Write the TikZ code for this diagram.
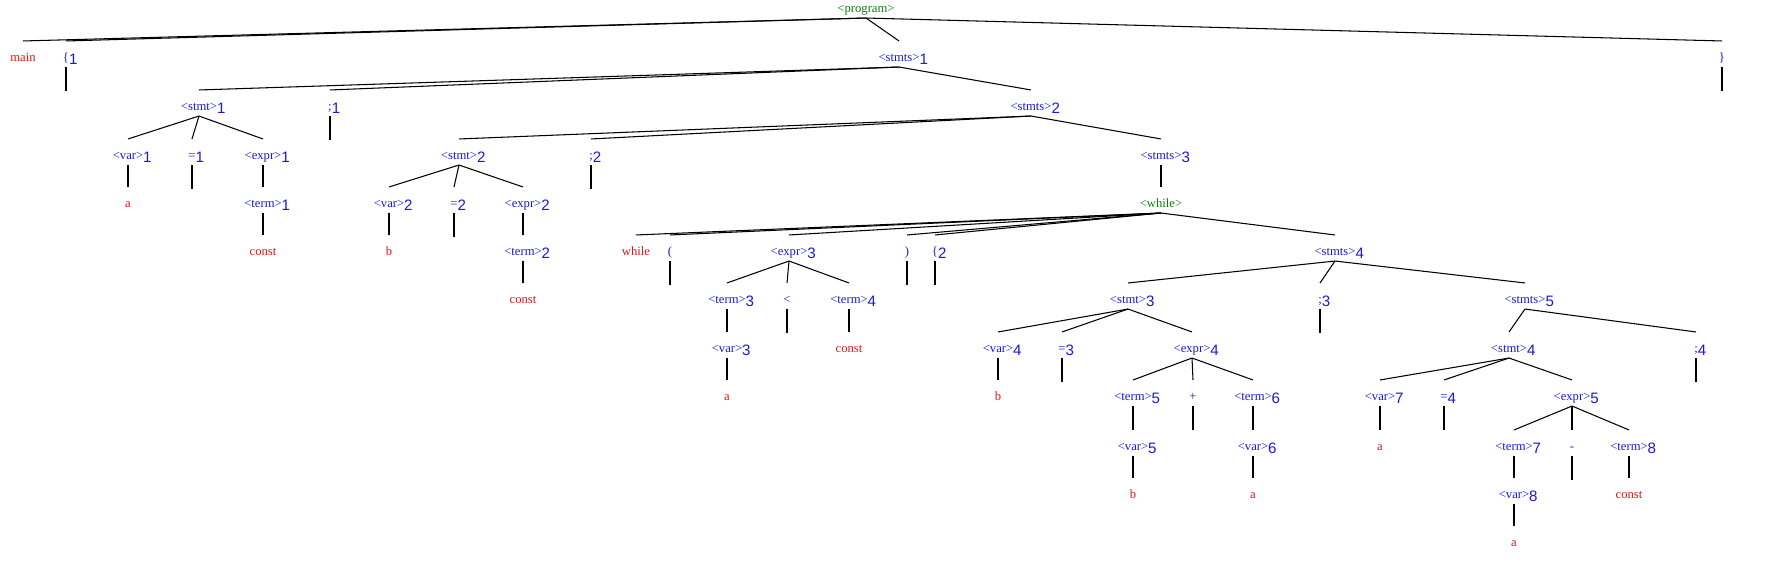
\documentclass[tikz,border=0pt]{standalone}
\usepackage{fontspec}
\setmainfont{Liberation Serif}
\newfontfamily\ixfont{Liberation Sans}
\usepackage{xcolor}
\usepackage{tikz}
\usetikzlibrary{positioning,calc}

\definecolor{ntblue}{RGB}{25,25,215}
\definecolor{tmred}{RGB}{225,20,20}
\definecolor{stgreen}{RGB}{10,130,10}

\newcommand{\ang}[1]{\textless#1\textgreater}
\newcommand{\ix}[1]{\rlap{\raisebox{-2pt}{\ixfont\fontsize{8.6}{9}\selectfont#1}}}

\tikzset{
    tn/.style={inner sep=0pt, minimum height=0.5cm, text height=8.6pt, text depth=0.6pt,
        font=\fontsize{7.2}{8}\selectfont},
    nt/.style={tn, text=ntblue},
    tm/.style={tn, text=tmred},
    st/.style={tn, text=stgreen},
}

\begin{document}
\begin{tikzpicture}[x=0.02cm, y=-0.02cm, line width=0.6pt]
    \useasboundingbox (0,0) rectangle (1791,578);

    % level 0 and 1
    \node[st] (prog) at (866,5) {\ang{program}};
    \node[tm] (main) at (23,54) {main};
    \node[nt] (lb1) at (66,54) {\{\ix1};
    \node[nt] (stmts1) at (899,54) {\ang{stmts}\ix1};
    \node[nt] (rb) at (1722,54) {\}};

    \node[nt] (stmt1) at (199,103) {\ang{stmt}\ix1};
    \node[nt] (semi1) at (330,103) {;\ix1};
    \node[nt] (stmts2) at (1031,103) {\ang{stmts}\ix2};

    \node[nt] (var1) at (128,152) {\ang{var}\ix1};
    \node[nt] (eq1) at (192,152) {=\ix1};
    \node[nt] (expr1) at (263,152) {\ang{expr}\ix1};
    \node[nt] (stmt2) at (459,152) {\ang{stmt}\ix2};
    \node[nt] (semi2) at (591,152) {;\ix2};
    \node[nt] (stmts3) at (1161,152) {\ang{stmts}\ix3};

    \node[tm] (a1) at (128,200) {a};
    \node[nt] (term1) at (263,200) {\ang{term}\ix1};
    \node[nt] (var2) at (389,200) {\ang{var}\ix2};
    \node[nt] (eq2) at (454,200) {=\ix2};
    \node[nt] (expr2) at (523,200) {\ang{expr}\ix2};
    \node[st] (wh) at (1161,200) {\ang{while}};

    \node[tm] (const1) at (263,248) {const};
    \node[tm] (b1) at (389,248) {b};
    \node[nt] (term2) at (523,248) {\ang{term}\ix2};
    \node[tm] (kw) at (636,248) {while};
    \node[nt] (lpar) at (670,248) {(};
    \node[nt] (expr3) at (789,248) {\ang{expr}\ix3};
    \node[nt] (rpar) at (907,248) {)};
    \node[nt] (lb2) at (935,248) {\{\ix2};
    \node[nt] (stmts4) at (1335,248) {\ang{stmts}\ix4};

    \node[tm] (const2) at (523,296) {const};
    \node[nt] (term3) at (727,296) {\ang{term}\ix3};
    \node[nt] (lt) at (787,296) {\textless};
    \node[nt] (term4) at (849,296) {\ang{term}\ix4};
    \node[nt] (stmt3) at (1128,296) {\ang{stmt}\ix3};
    \node[nt] (semi3) at (1320,296) {;\ix3};
    \node[nt] (stmts5) at (1525,296) {\ang{stmts}\ix5};

    \node[nt] (var3) at (727,345) {\ang{var}\ix3};
    \node[tm] (const3) at (849,345) {const};
    \node[nt] (var4) at (998,345) {\ang{var}\ix4};
    \node[nt] (eq3) at (1062,345) {=\ix3};
    \node[nt] (expr4) at (1192,345) {\ang{expr}\ix4};
    \node[nt] (stmt4) at (1509,345) {\ang{stmt}\ix4};
    \node[nt] (semi4) at (1696,345) {;\ix4};

    \node[tm] (a2) at (727,393) {a};
    \node[tm] (b2) at (998,393) {b};
    \node[nt] (term5) at (1133,393) {\ang{term}\ix5};
    \node[nt] (plus) at (1193,393) {+};
    \node[nt] (term6) at (1253,393) {\ang{term}\ix6};
    \node[nt] (var7) at (1380,393) {\ang{var}\ix7};
    \node[nt] (eq4) at (1444,393) {=\ix4};
    \node[nt] (expr5) at (1572,393) {\ang{expr}\ix5};

    \node[nt] (var5) at (1133,443) {\ang{var}\ix5};
    \node[nt] (var6) at (1253,443) {\ang{var}\ix6};
    \node[tm] (a3) at (1380,443) {a};
    \node[nt] (term7) at (1514,443) {\ang{term}\ix7};
    \node[nt] (minus) at (1572,443) {-};
    \node[nt] (term8) at (1629,443) {\ang{term}\ix8};

    \node[tm] (b3) at (1133,491) {b};
    \node[tm] (a4) at (1253,491) {a};
    \node[nt] (var8) at (1514,491) {\ang{var}\ix8};
    \node[tm] (const4) at (1629,491) {const};

    \node[tm] (a5) at (1514,539) {a};

    % tree edges
    \draw (prog.south) edge (main.north) edge (lb1.north) edge (stmts1.north) edge (rb.north);
    \draw (stmts1.south) edge (stmt1.north) edge (semi1.north) edge (stmts2.north);
    \draw (stmt1.south) edge (var1.north) edge (eq1.north) edge (expr1.north);
    \draw (var1.south) -- (a1.north);
    \draw (expr1.south) -- (term1.north);
    \draw (term1.south) -- (const1.north);
    \draw (stmts2.south) edge (stmt2.north) edge (semi2.north) edge (stmts3.north);
    \draw (stmt2.south) edge (var2.north) edge (eq2.north) edge (expr2.north);
    \draw (var2.south) -- (b1.north);
    \draw (expr2.south) -- (term2.north);
    \draw (term2.south) -- (const2.north);
    \draw (stmts3.south) -- (wh.north);
    \draw (wh.south) edge (kw.north) edge (lpar.north) edge (expr3.north)
        edge (rpar.north) edge (lb2.north) edge (stmts4.north);
    \draw (expr3.south) edge (term3.north) edge (lt.north) edge (term4.north);
    \draw (term3.south) -- (var3.north);
    \draw (var3.south) -- (a2.north);
    \draw (term4.south) -- (const3.north);
    \draw (stmts4.south) edge (stmt3.north) edge (semi3.north) edge (stmts5.north);
    \draw (stmt3.south) edge (var4.north) edge (eq3.north) edge (expr4.north);
    \draw (var4.south) -- (b2.north);
    \draw (expr4.south) edge (term5.north) edge (plus.north) edge (term6.north);
    \draw (term5.south) -- (var5.north);
    \draw (var5.south) -- (b3.north);
    \draw (term6.south) -- (var6.north);
    \draw (var6.south) -- (a4.north);
    \draw (stmts5.south) edge (stmt4.north) edge (semi4.north);
    \draw (stmt4.south) edge (var7.north) edge (eq4.north) edge (expr5.north);
    \draw (var7.south) -- (a3.north);
    \draw (expr5.south) edge (term7.north) edge (minus.north) edge (term8.north);
    \draw (term7.south) -- (var8.north);
    \draw (var8.south) -- (a5.north);
    \draw (term8.south) -- (const4.north);

    % stubs under terminals
    \draw (lb1.south) -- ++(0,23.5) (rb.south) -- ++(0,23.5)
        (semi1.south) -- ++(0,23.5) (eq1.south) -- ++(0,23.5)
        (semi2.south) -- ++(0,23.5) (eq2.south) -- ++(0,23.5)
        (lpar.south) -- ++(0,23.5) (rpar.south) -- ++(0,23.5)
        (lb2.south) -- ++(0,23.5) (lt.south) -- ++(0,23.5)
        (semi3.south) -- ++(0,23.5) (eq3.south) -- ++(0,23.5)
        (semi4.south) -- ++(0,23.5) (plus.south) -- ++(0,23.5)
        (eq4.south) -- ++(0,23.5) (minus.south) -- ++(0,23.5);
\end{tikzpicture}
\end{document}
